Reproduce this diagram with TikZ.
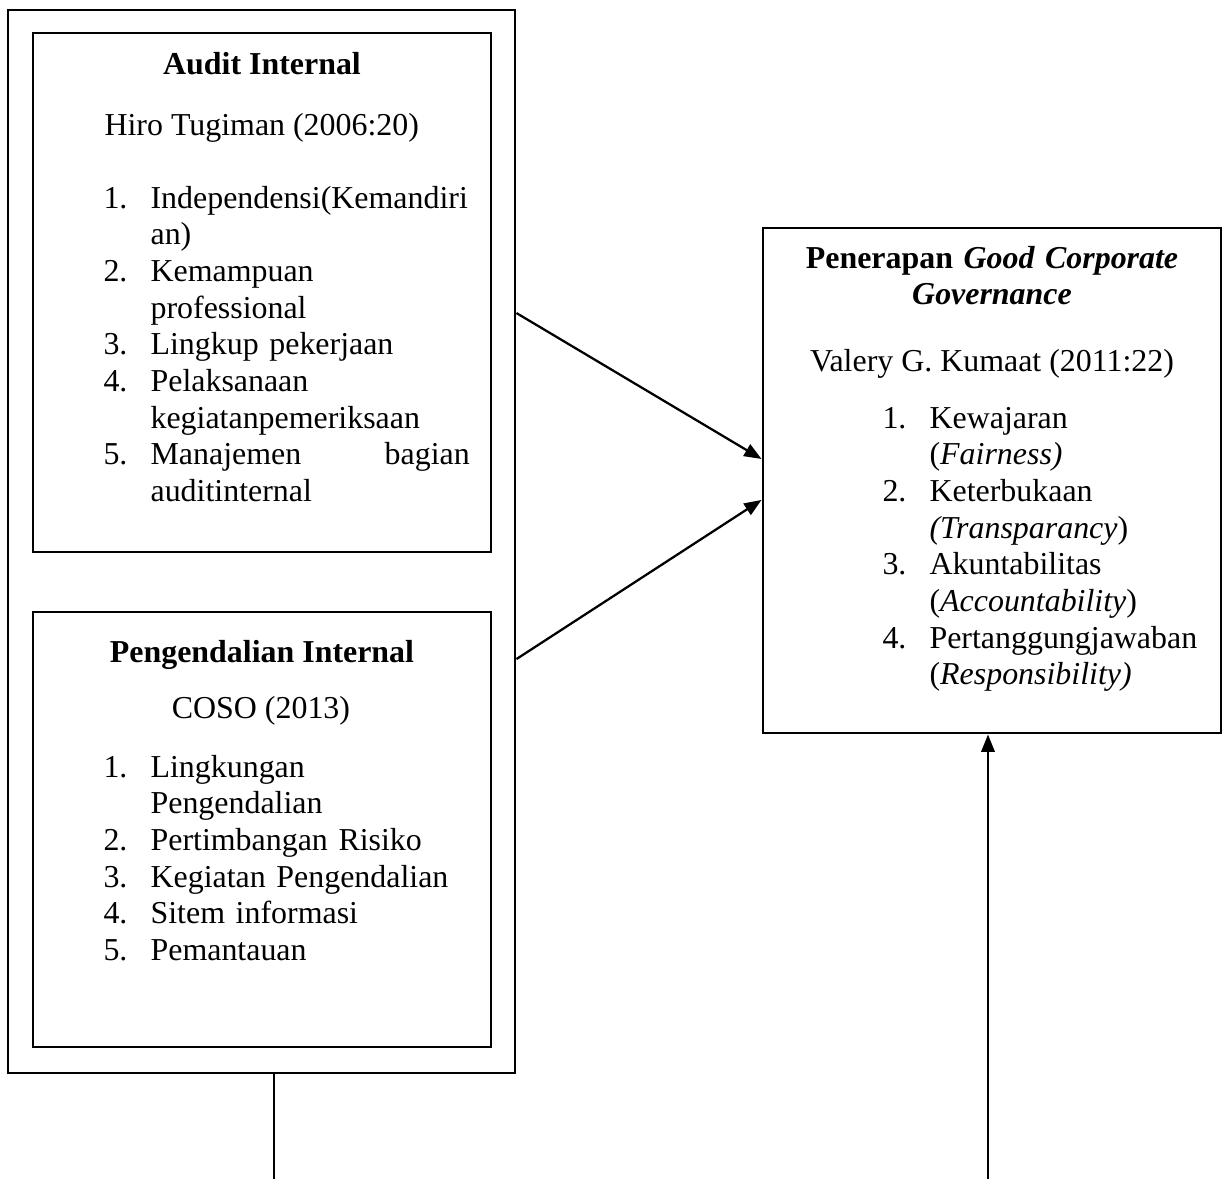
\documentclass[tikz,border=0pt]{standalone}
\usepackage{fontspec}
\setmainfont{Liberation Serif}
\usetikzlibrary{arrows.meta, fit, positioning}
\newcommand\li[2]{\makebox[17.7pt][l]{#1}#2}
\newcommand\lc[1]{\hspace*{17.7pt}#1}

\begin{document}
\begin{tikzpicture}[x=0.376pt, y=-0.376pt, >={Triangle[length=6.5pt, width=5pt]},
	box/.style={draw, line width=1.1pt, inner sep=0pt},
	txt/.style={inner sep=0pt, font=\fontsize{12}{13.8}\selectfont},
	head/.style={txt, anchor=base, font=\fontsize{12}{13.8}\selectfont\bfseries},
	lst/.style={txt, anchor=base west, align=left, text width=#1},
	arr/.style={->, line width=0.85pt}]
		\useasboundingbox (0,0) rectangle (1225,1179);
		% kotak
		\node[box, fit={(8,10) (515,1073)}]		(outer) {};
		\node[box, fit={(33,33) (491,552)}]		(audit) {};
		\node[box, fit={(33,612) (491,1047)}]	(pengendalian) {};
		\node[box, fit={(763,228) (1221,733)}]	(gcg) {};
		% audit internal
		\node[head]	(audittitle)	at (262,74)	{Audit Internal};
		\node[txt, anchor=base west] (auditsrc) at (104,135) {Hiro Tugiman (2006:20)};
		\node[lst=138pt]	(auditlist)	at (103,208) {\li{1.}{Independensi(Kemandiri}\\
			\lc{an)}\\
			\li{2.}{Kemampuan}\\
			\lc{professional}\\
			\li{3.}{Lingkup pekerjaan}\\
			\li{4.}{Pelaksanaan}\\
			\lc{kegiatanpemeriksaan}\\
			\li{5.}{\makebox[120pt][l]{Manajemen\hfill bagian}}\\
			\lc{auditinternal}};
		% pengendalian internal
		\node[head]	(pengtitle)	at (262,662) {Pengendalian Internal};
		\node[txt, anchor=base] (pengsrc) at (261,718) {COSO (2013)};
		\node[lst=138pt]	(penglist)	at (103,777) {\li{1.}{Lingkungan}\\
			\lc{Pengendalian}\\
			\li{2.}{Pertimbangan Risiko}\\
			\li{3.}{Kegiatan Pengendalian}\\
			\li{4.}{Sitem informasi}\\
			\li{5.}{Pemantauan}};
		% good corporate governance
		\node[head, text width=170pt, align=center] (gcgtitle) at (992,268) {Penerapan \textit{Good Corporate}\\
			\textit{Governance}};
		\node[txt, anchor=base] (gcgsrc) at (992,371) {Valery G. Kumaat (2011:22)};
		\node[lst=125pt] (gcglist) at (882,428) {\li{1.}{Kewajaran}\\
			\lc{(\textit{Fairness)}}\\
			\li{2.}{Keterbukaan}\\
			\lc{\textit{(Transparancy})}\\
			\li{3.}{Akuntabilitas}\\
			\lc{(\textit{Accountability})}\\
			\li{4.}{Pertanggungjawaban}\\
			\lc{(\textit{Responsibility)}}};
		% panah
		\coordinate (gcgfoot)	at (988,1179);
		\coordinate (outerfoot)	at (274,1179);
		\path
		([yshift=85.9pt]outer.east)		edge[arr]	([yshift=8.1pt]gcg.west)
		([yshift=-44.2pt]outer.east)	edge[arr]	([yshift=-7.3pt]gcg.west)
		(gcgfoot)	edge[arr]	(gcgfoot |- gcg.south);
		\draw[line width=0.5pt] (outerfoot |- outer.south) -- (outerfoot);
\end{tikzpicture}
\end{document}
